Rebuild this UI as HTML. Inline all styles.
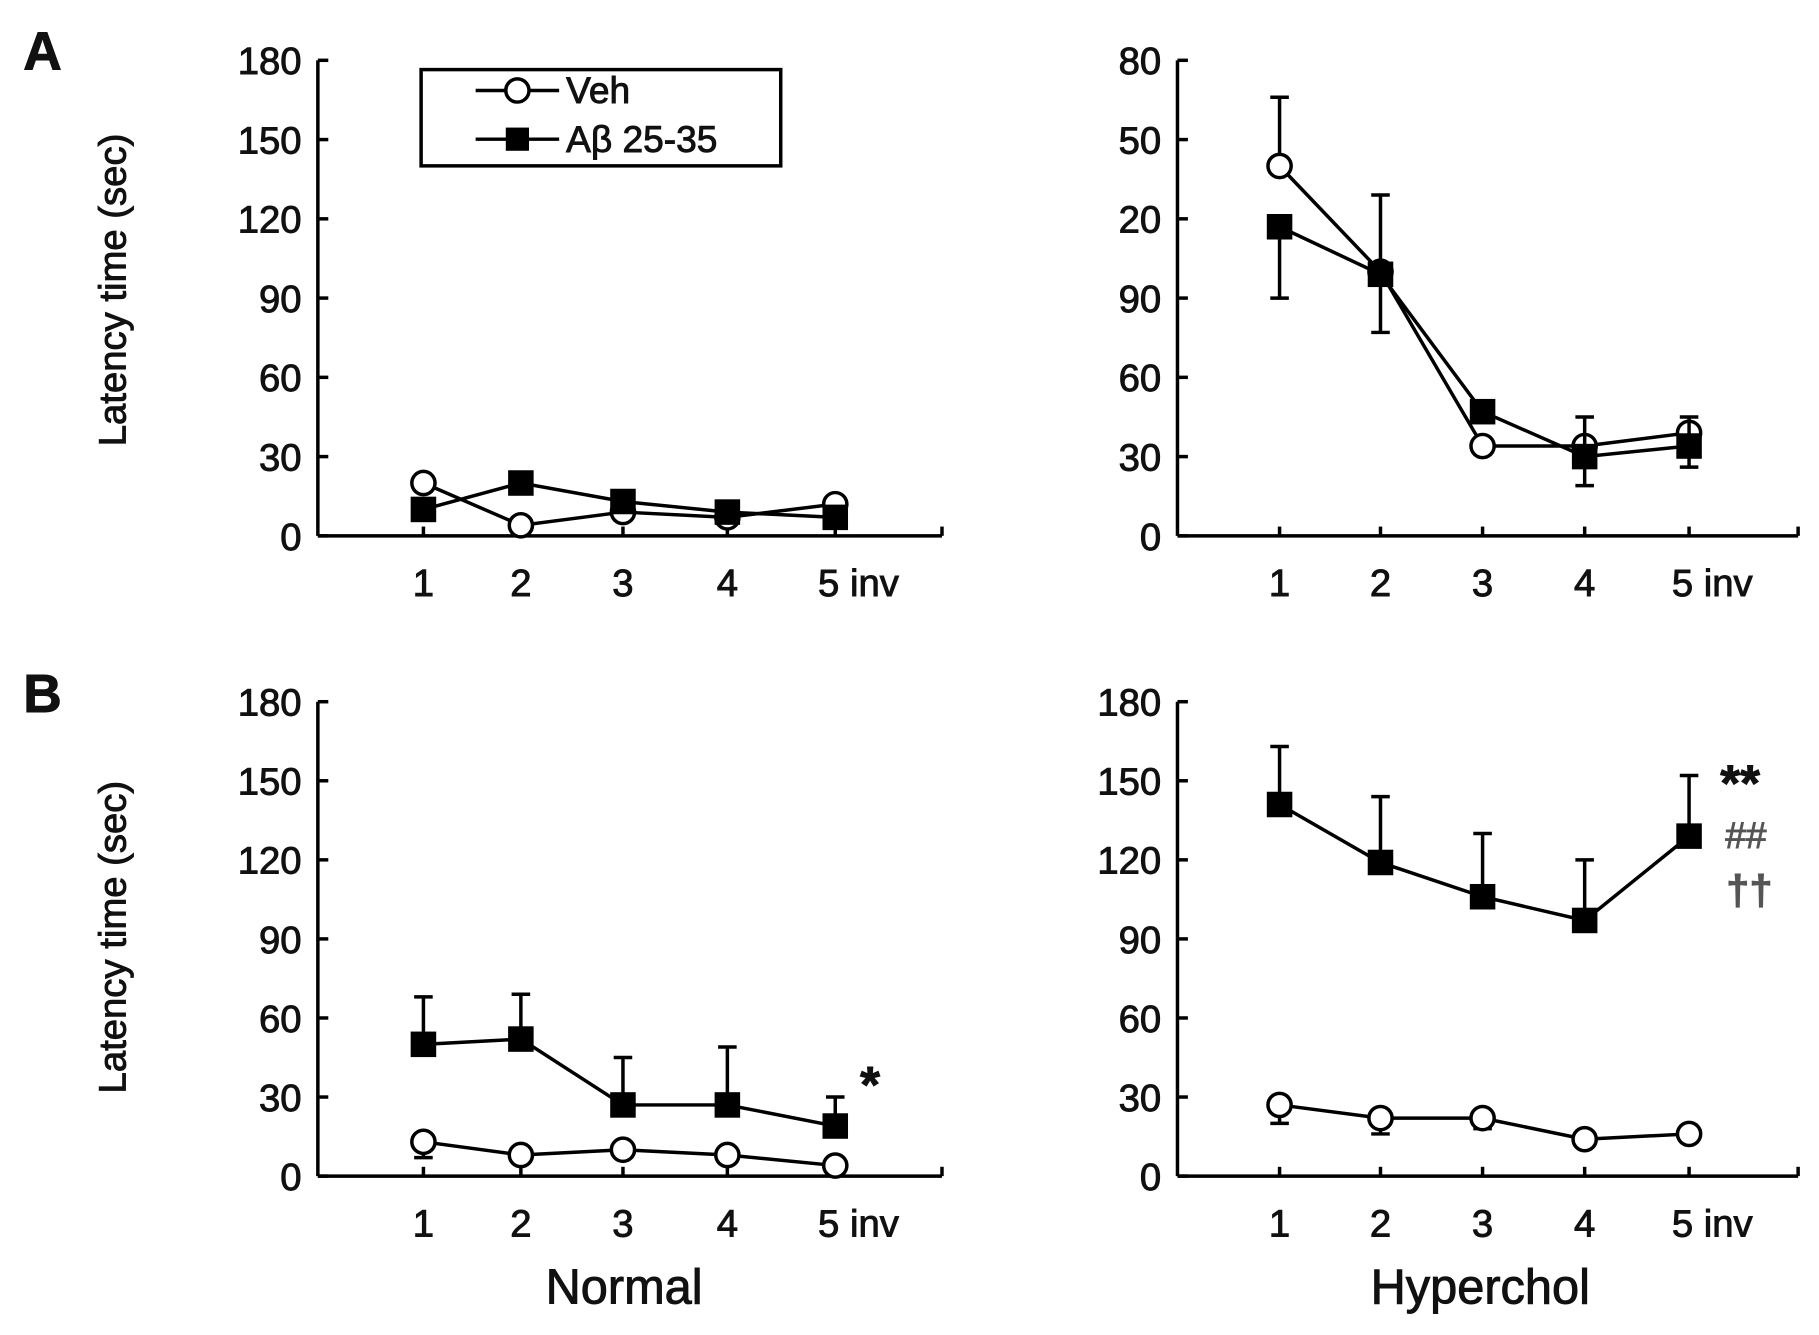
<!DOCTYPE html>
<html><head><meta charset="utf-8"><style>
html,body{margin:0;padding:0;background:#fff;}
svg{display:block;}
text{font-family:"Liberation Sans",Arial,sans-serif;fill:#111;stroke:#111;stroke-width:0.8;}
</style></head><body>
<svg id="fig" width="1819" height="1335" viewBox="0 0 1568 1151" preserveAspectRatio="none" xmlns="http://www.w3.org/2000/svg">
<text x="20" y="60" font-size="46" font-weight="bold">A</text>
<text x="20" y="614" font-size="46" font-weight="bold">B</text>
<text transform="translate(108,250) rotate(-90)" text-anchor="middle" font-size="33">Latency time (sec)</text>
<text transform="translate(108,808) rotate(-90)" text-anchor="middle" font-size="33">Latency time (sec)</text>
<text x="538" y="1124" text-anchor="middle" font-size="42">Normal</text>
<text x="1276" y="1124" text-anchor="middle" font-size="42">Hyperchol</text>
<g>
<rect x="363" y="60" width="310" height="83" fill="#fff" stroke="#000" stroke-width="3"/>
<line x1="410" y1="78" x2="482" y2="78" stroke="#000" stroke-width="3"/>
<circle cx="446" cy="78" r="10" fill="#fff" stroke="#000" stroke-width="3"/>
<text x="488" y="89" font-size="32">Veh</text>
<line x1="410" y1="120" x2="482" y2="120" stroke="#000" stroke-width="3"/>
<rect x="436" y="110" width="20" height="20" fill="#000"/>
<text x="488" y="131" font-size="32">Aβ 25-35</text>
</g>
<text x="750" y="950" text-anchor="middle" font-size="44" font-weight="bold">*</text>
<text x="1500" y="690" text-anchor="middle" font-size="44" font-weight="bold">**</text>
<text x="1505" y="731" text-anchor="middle" font-size="32" style="fill:#555;stroke:#555">##</text>
<text x="1508" y="780" text-anchor="middle" font-size="36" font-weight="bold" style="fill:#555;stroke:#555">††</text>
</svg>
<script>
const categories = ["1","2","3","4","5 inv"];
const yTicks = [0,30,60,90,120,150,180];
const yTickLabelsAR = ["0","30","60","90","20","50","80"];
const yTickLabelsStd = ["0","30","60","90","120","150","180"];
// Panel A normal
const aNormVeh = [20,4,9,7,12];
const aNormVehErr = [3,2,3,2,2];
const aNormAb = [10,20,13,9,7];
const aNormAbErr = [3,3,2,2,2];
// Panel A hyperchol
const aHypVeh = [140,100,34,34,39];
const aHypVehErrUp = [26,0,0,0,0];
const aHypAb = [117,99,47,30,34];
const aHypAbErrUp = [0,30,0,15,11];
const aHypAbErr = [27,22,0,11,8];
// Panel B normal
const bNormVeh = [13,8,10,8,4];
const bNormVehErr = [6,0,0,0,0];
const bNormAb = [50,52,27,27,19];
const bNormAbErr = [18,17,18,22,11];
// Panel B hyperchol
const bHypVeh = [27,22,22,14,16];
const bHypVehErr = [7,6,4,3,0];
const bHypAb = [141,119,106,97,129];
const bHypAbErr = [22,25,24,23,23];

const svg = document.getElementById('fig');
const NS = 'http://www.w3.org/2000/svg';
function mk(tag, attrs, parent){const e=document.createElementNS(NS,tag);for(const k in attrs)e.setAttribute(k,attrs[k]);(parent||svg).appendChild(e);return e;}

function panel(name, x0, xEnd, xPos, top, bottom, tickLabels, veh, vehErrUp, vehErrDn, ab, abErrUp, abErrDn){
  const g = mk('g',{});
  
  
  const ys = v => bottom - (v/180)*(bottom-top);
  const xs = i => xPos[i];
  mk('line',{x1:x0,y1:top,x2:x0,y2:bottom,stroke:'#000','stroke-width':3},g);
  mk('line',{x1:x0,y1:bottom,x2:xEnd,y2:bottom,stroke:'#000','stroke-width':3},g);
  mk('line',{x1:xEnd,y1:bottom,x2:xEnd,y2:bottom-8,stroke:'#000','stroke-width':3},g);
  yTicks.forEach((t,i)=>{
    mk('line',{x1:x0,y1:ys(t),x2:x0+9,y2:ys(t),stroke:'#000','stroke-width':3},g);
    const tx = mk('text',{x:x0-14,y:ys(t)+12,'text-anchor':'end','font-size':33},g);
    tx.textContent = tickLabels[i];
    
    
  });
  categories.forEach((c,i)=>{
    mk('line',{x1:xs(i),y1:bottom,x2:xs(i),y2:bottom-8,stroke:'#000','stroke-width':3},g);
    const tx = mk('text',{x:i===4?xs(i)+20:xs(i),y:bottom+52,'text-anchor':'middle','font-size':33},g);
    tx.textContent = c;
    
    
  });
  function series(vals, up, dn, type){
    vals.forEach((v,i)=>{
      const x=xs(i);
      if(up[i]>0){mk('line',{x1:x,y1:ys(v),x2:x,y2:ys(v+up[i]),stroke:'#000','stroke-width':3},g);mk('line',{x1:x-8,y1:ys(v+up[i]),x2:x+8,y2:ys(v+up[i]),stroke:'#000','stroke-width':3},g);}
      if(dn[i]>0){const lo=Math.max(0,v-dn[i]);mk('line',{x1:x,y1:ys(v),x2:x,y2:ys(lo),stroke:'#000','stroke-width':3},g);mk('line',{x1:x-8,y1:ys(lo),x2:x+8,y2:ys(lo),stroke:'#000','stroke-width':3},g);}
    });
    const pl = mk('polyline',{points:vals.map((v,i)=>xs(i)+','+ys(v)).join(' '),fill:'none',stroke:'#000','stroke-width':3},g);
    
    
    vals.forEach((v,i)=>{
      let m;
      if(type==='veh') m = mk('circle',{cx:xs(i),cy:ys(v),r:10,fill:'#fff',stroke:'#000','stroke-width':3},g);
      else m = mk('rect',{x:xs(i)-11,y:ys(v)-11,width:22,height:22,fill:'#000'},g);
      
      
    });
  }
  series(veh, vehErrUp, vehErrDn, 'veh');
  series(ab, abErrUp, abErrDn, 'abeta');
}
const z=[0,0,0,0,0];
const xL=[365,449,537,627,720], xR=[1103,1190,1278,1366,1456];
panel('panel-a-normal',274,812,xL,52,462,yTickLabelsStd,aNormVeh,z,aNormVehErr,aNormAb,z,aNormAbErr);
panel('panel-a-hyperchol',1015,1550,xR,52,462,yTickLabelsAR,aHypVeh,aHypVehErrUp,z,aHypAb,aHypAbErrUp,aHypAbErr);
panel('panel-b-normal',274,812,xL,605,1014,yTickLabelsStd,bNormVeh,z,bNormVehErr,bNormAb,bNormAbErr,z);
panel('panel-b-hyperchol',1015,1550,xR,605,1014,yTickLabelsStd,bHypVeh,z,bHypVehErr,bHypAb,bHypAbErr,z);
</script>
</body></html>
